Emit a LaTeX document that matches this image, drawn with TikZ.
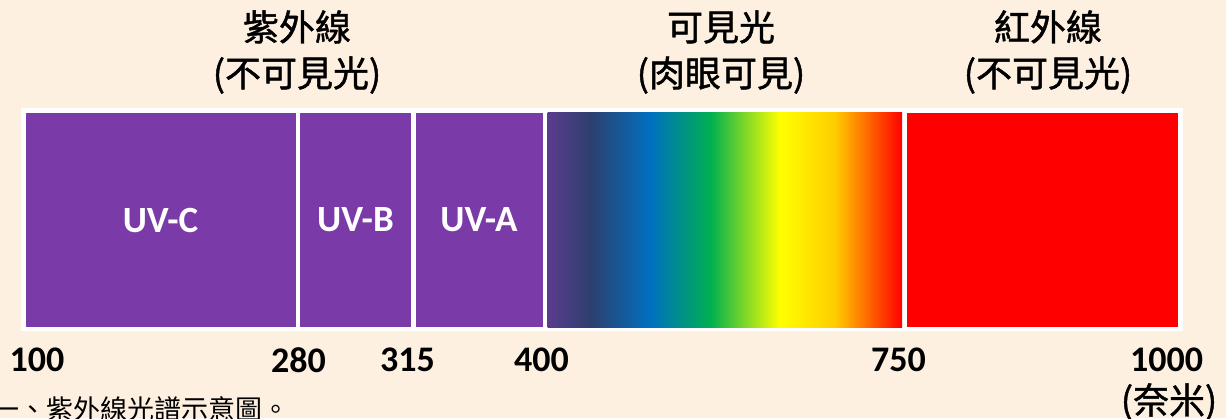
\documentclass[tikz,border=0pt]{standalone}
\usepackage{fontspec}
\setmainfont{Carlito}
\newfontfamily\cjk{Noto Sans CJK TC}
\newfontfamily\cjkhead[FakeBold=1.2]{Noto Sans CJK TC}
\definecolor{bgcream}{RGB}{253,240,224}
\definecolor{uvpurple}{RGB}{122,58,168}
\definecolor{sp0}{RGB}{90,60,142}
\definecolor{sp1}{RGB}{46,63,110}
\definecolor{sp2}{RGB}{0,112,192}
\definecolor{sp3}{RGB}{0,176,80}
\definecolor{sp4}{RGB}{255,255,0}
\definecolor{sp5}{RGB}{255,205,0}
\definecolor{sp6}{RGB}{255,0,0}
\pgfdeclarehorizontalshading{spectrum}{100bp}{color(0bp)=(sp0); color(25bp)=(sp0); color(31bp)=(sp1); color(39.5bp)=(sp2); color(48bp)=(sp3); color(57.8bp)=(sp4); color(65.5bp)=(sp5); color(75bp)=(sp6); color(100bp)=(sp6)}
\begin{document}
\begin{tikzpicture}[x=1pt,y=-1pt,
		title/.style={font=\cjkhead\fontsize{36}{46}\selectfont, align=center, inner sep=0pt},
		band/.style={font=\bfseries\fontsize{37}{40}\selectfont, text=white, inner sep=0pt},
		wave/.style={font=\bfseries\fontsize{36}{40}\selectfont, inner sep=0pt}]
				\fill [bgcream] (0,0) rectangle (1226,418);
				\useasboundingbox (0,0) rectangle (1226,418);
				\fill [white] (21,107.5) rectangle (1183,331);
				% ultraviolet bands
				\fill [uvpurple] (26,112.5) rectangle (295.5,327);
				\fill [uvpurple] (300,112.5) rectangle (411,327);
				\fill [uvpurple] (415.5,112.5) rectangle (543,327);
				% visible and infrared
				\shade [shading=spectrum] (547.5,112.5) rectangle (902,327);
				\fill [red] (906.5,112.5) rectangle (1178,327);
				\node [band] (uvc) at (160.5,220) {UV-C};
				\node [band] (uvb) at (355.5,220) {UV-B};
				\node [band] (uva) at (479,220) {UV-A};
				\node [title] (uvtitle) at (297,52) {紫外線\\(不可見光)};
				\node [title] (vistitle) at (721,52) {可見光\\(肉眼可見)};
				\node [title] (irtitle) at (1048,52) {紅外線\\(不可見光)};
				\node [wave] (w100) at (37,360) {100};
				\node [wave] (w280) at (298.5,360) {280};
				\node [wave] (w315) at (407.5,360) {315};
				\node [wave] (w400) at (541.5,360) {400};
				\node [wave] (w750) at (898.5,360) {750};
				\node [wave] (w1000) at (1166.5,360) {1000};
				\node [title] (unit) at (1169,402) {(奈米)};
				\node [font=\cjk\fontsize{27}{30}\selectfont, inner sep=0pt, anchor=west] (caption) at (-8,409) {一、紫外線光譜示意圖。};
			\end{tikzpicture}
\end{document}
